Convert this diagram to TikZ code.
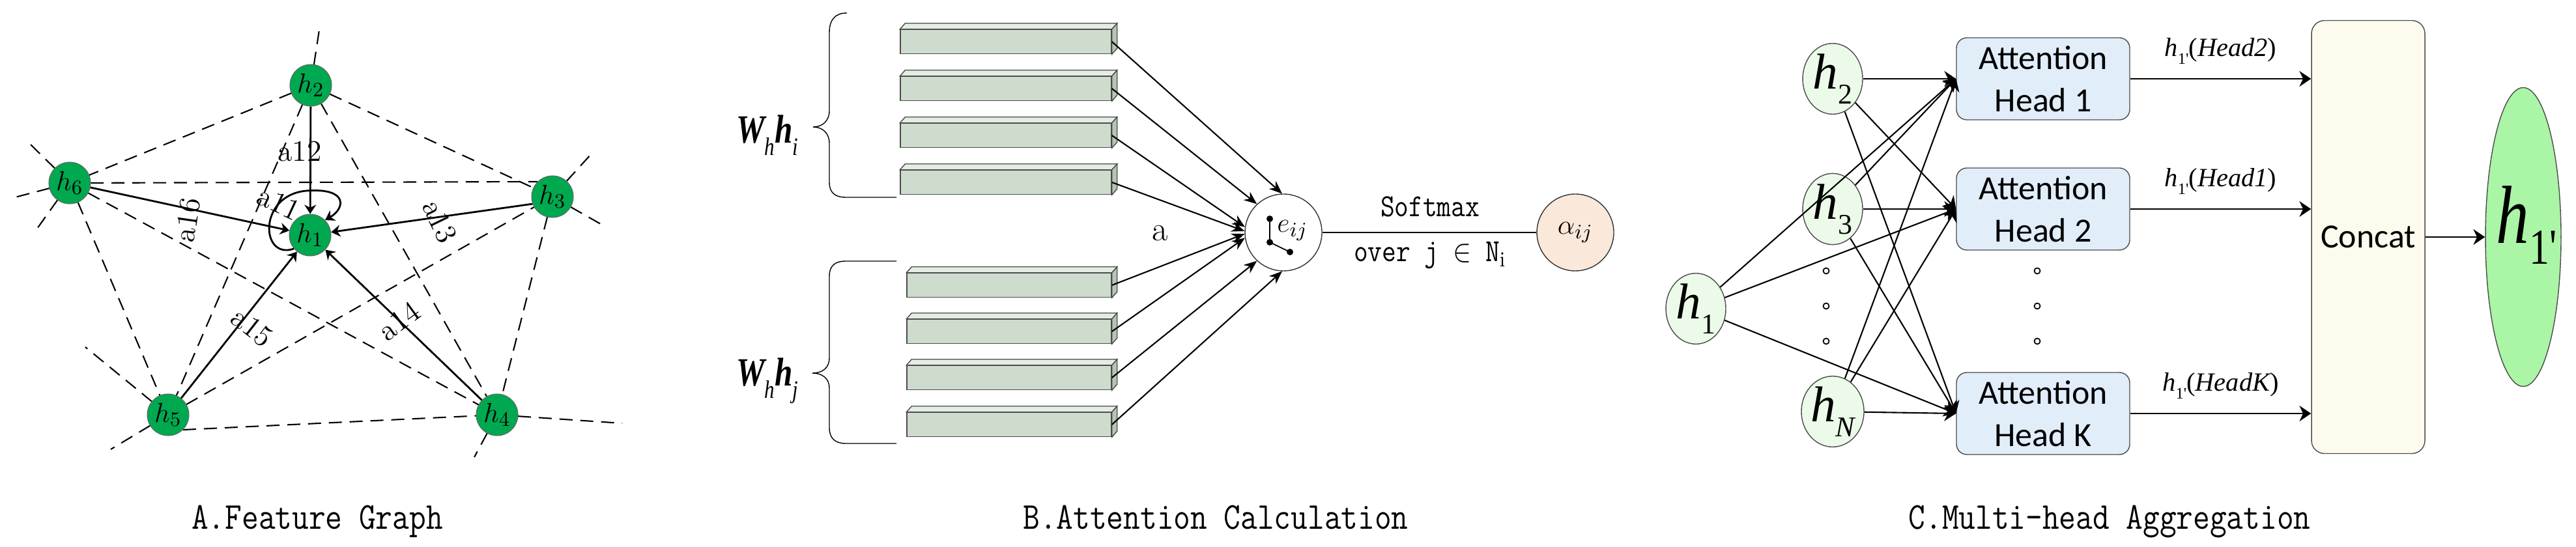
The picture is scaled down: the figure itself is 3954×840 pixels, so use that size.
\documentclass[tikz,border=0pt]{standalone}
\usepackage{fontspec}
\usepackage{amsmath}
\usepackage{graphicx}
\usepackage{tikz}
\usetikzlibrary{arrows.meta,backgrounds,shapes.geometric}
\newfontfamily\tms{Liberation Serif}
\newfontfamily\tmsi{Liberation Serif}[UprightFont={* Italic}]
\newfontfamily\calibri{Carlito}
\definecolor{nodegreen}{RGB}{0,168,80}
\definecolor{barface}{RGB}{206,220,206}
\definecolor{bartopc}{RGB}{228,237,228}
\definecolor{barsidec}{RGB}{180,197,180}
\definecolor{alphafill}{RGB}{250,232,218}
\definecolor{hlight}{RGB}{236,250,233}
\definecolor{headblue}{RGB}{226,237,250}
\definecolor{concatfill}{RGB}{253,251,238}
\definecolor{outgreen}{RGB}{170,245,166}
\newcommand{\tallmono}[2]{\scalebox{1}[1.17]{\ttfamily\fontsize{#1}{#1}\selectfont #2}}
\newcommand{\wlab}[1]{\scalebox{0.8}[1]{\tms\fontsize{17.5}{20}\selectfont\bfseries\itshape W\raisebox{-0.3em}{\mdseries\fontsize{11}{11}\selectfont h}h\raisebox{-0.3em}{\mdseries\fontsize{11}{11}\selectfont #1}}}
\newcommand{\hC}[1]{{\fontsize{22}{24}\selectfont{\tmsi h}\raisebox{-0.3em}{\tms\fontsize{12.5}{13}\selectfont #1}}}
\newcommand{\hlab}[1]{{\fontsize{11.5}{13}\selectfont{\tmsi h}\raisebox{-0.3em}{\tms\fontsize{7}{7}\selectfont 1\textquotesingle}{\tms(}{\tmsi #1}{\tms)}}}

\begin{document}
\begin{tikzpicture}[x=0.1mm,y=-0.1mm,>=Stealth,
  gnode/.style={circle,fill=nodegreen,draw=black!60,line width=0.3pt,minimum size=6.4mm,inner sep=0pt,font=\fontsize{12.5}{14}\selectfont},
  rimline/.style={dash pattern=on 2mm off 1.2mm,line width=0.6pt},
  pull/.style={-{Stealth[length=1.4mm,width=1.8mm]},line width=0.8pt},
  wlabel/.style={font=\fontsize{13}{15}\selectfont,inner sep=0pt},
  bar/.style={rectangle,draw=black!70,fill=barface,line width=0.4pt,minimum height=3.7mm,inner sep=0pt},
  bartop/.style={draw=black!70,fill=bartopc,line width=0.4pt},
  barside/.style={draw=black!70,fill=barsidec,line width=0.4pt},
  feed/.style={-{Stealth[length=2mm,width=1.6mm]},line width=0.6pt},
  hin/.style={ellipse,draw=black!70,fill=hlight,line width=0.4pt,minimum width=9.2mm,minimum height=10mm,inner sep=0pt},
  head/.style={rectangle,rounded corners=1.6mm,draw=black!70,fill=headblue,line width=0.4pt,minimum width=26.6mm,minimum height=12.6mm,align=center,font=\calibri\fontsize{14.8}{18.5}\selectfont},
  agg/.style={-{Stealth[length=1.8mm,width=2.4mm]},line width=0.6pt},
  ring/.style={draw,line width=0.5pt},
  captext/.style={anchor=base,inner sep=0pt}]
\useasboundingbox (0,0) rectangle (3954,840);

\node[gnode] (h1) at (476,361) {$h_1$};
\node[gnode] (h2) at (477,131) {$h_2$};
\node[gnode] (h3) at (848,302) {$h_3$};
\node[gnode] (h4) at (763,637) {$h_4$};
\node[gnode] (h5) at (258,637) {$h_5$};
\node[gnode] (h6) at (107,281) {$h_6$};
\coordinate (e2) at (490,46);
\coordinate (e6a) at (45,220);
\coordinate (e6b) at (23,303);
\coordinate (e6c) at (57,351);
\coordinate (e5a) at (131,533);
\coordinate (e5b) at (170,690);
\coordinate (e4a) at (955,650);
\coordinate (e4b) at (728,702);
\coordinate (e3a) at (908,236);
\coordinate (e3b) at (922,344);
\begin{scope}[on background layer]
\draw[rimline] (h2.center) -- (h6.center);
\draw[rimline] (h2.center) -- (h3.center);
\draw[rimline] (h3.center) -- (h4.center);
\draw[rimline] (h5.south east) -- (h4.center);
\draw[rimline] (h6.center) -- (h5.center);
\draw[rimline] (h2.center) -- (h5.center);
\draw[rimline] (h2.center) -- (h4.center);
\draw[rimline] (h6.center) -- (h3.north west);
\draw[rimline] (h6.center) -- (h4.center);
\draw[rimline] (h5.center) -- (h3.center);
\foreach \n/\e in {h2/e2,h6/e6a,h6/e6b,h6/e6c,h5/e5a,h5/e5b,h4/e4a,h4/e4b,h3/e3a,h3/e3b}
  \draw[rimline] (\n.center) -- (\e);
\end{scope}
\draw[pull] (h2) -- (h1);
\draw[pull] (h6) -- (h1);
\draw[pull] (h3.200) -- (h1);
\draw[pull] (h4) -- (h1);
\draw[pull] (h5) -- (h1);
\draw[pull] (h1.220) .. controls (400,400) and (395,300) .. (470,293) .. controls (535,288) and (530,320) .. (h1.45);
\node[wlabel] (l12) at (460,233) {a12};
\node[wlabel,rotate=82] (l16) at (288,338) {a16};
\node[wlabel,rotate=-64] (l13) at (675,340) {a13};
\node[wlabel,rotate=36] (l14) at (613,493) {a14};
\node[wlabel,rotate=-38] (l15) at (387,503) {a15};
\node[wlabel,rotate=-25] (l11) at (428,312) {a11};

\foreach \k/\y in {1/64,2/136,3/208,4/280}
  \node[bar,minimum width=32.4mm] (wi\k) at (1544,\y) {};
\foreach \k/\y in {1/438,2/509,3/580,4/652}
  \node[bar,minimum width=31.4mm] (wj\k) at (1549,\y) {};
\foreach \b in {wi1,wi2,wi3,wi4,wj1,wj2,wj3,wj4}{
  \draw[bartop] (\b.north west) -- ++(0.8mm,0.9mm) -- ([shift={(0.8mm,0.9mm)}]\b.north east) -- (\b.north east) -- cycle;
  \draw[barside] (\b.north east) -- ++(0.8mm,0.9mm) -- ([shift={(0.8mm,0.9mm)}]\b.south east) -- (\b.south east) -- cycle;
}
\draw[line width=0.4pt] (1300,20) .. controls (1282,20) and (1273,30) .. (1273,50) -- (1273,170) .. controls (1273,186) and (1262,195) .. (1248,195) .. controls (1262,195) and (1273,204) .. (1273,220) -- (1273,280) .. controls (1273,296) and (1282,303) .. (1298,303) -- (1376,303);
\draw[line width=0.4pt] (1376,401) -- (1298,401) .. controls (1282,401) and (1273,408) .. (1273,424) -- (1273,550) .. controls (1273,565) and (1262,573) .. (1247,573) .. controls (1262,573) and (1273,581) .. (1273,596) -- (1273,657) .. controls (1273,673) and (1282,681) .. (1298,681) -- (1376,681);
\node[anchor=base east,inner sep=0pt] (wihi) at (1226,220) {\wlab{i}};
\node[anchor=base east,inner sep=0pt] (wjhj) at (1226,593) {\wlab{j}};
\node[circle,draw=black!80,fill=white,line width=0.4pt,minimum size=11.8mm,inner sep=0pt] (eij) at (1970,357) {};
\node[inner sep=0pt,font=\fontsize{13}{15}\selectfont] (etext) at (1984,354) {$e_{ij}$};
\draw[line width=0.5pt] ([shift={(-2.1mm,2.1mm)}]eij.center) coordinate (ic1) -- ([shift={(-2.1mm,-1.5mm)}]eij.center) coordinate (ic2) -- ([shift={(1mm,-3mm)}]eij.center) coordinate (ic3);
\foreach \c in {ic1,ic2,ic3}
  \fill (\c) circle (0.5mm);
\foreach \b/\a in {wi1/92,wi2/133,wi3/172,wi4/178,wj1/182,wj2/188,wj3/227,wj4/268}
  \draw[feed] (\b.east) -- (eij.\a);
\node[inner sep=0pt,font=\fontsize{15}{17}\selectfont] (alab) at (1781,358) {a};
\node[circle,draw=black!80,fill=alphafill,line width=0.4pt,minimum size=11.8mm,inner sep=0pt,font=\fontsize{13}{15}\selectfont] (alpha) at (2418,357) {$\alpha_{ij}$};
\draw[line width=0.8pt] (eij) -- (alpha);
\node[captext] (soft) at (2195,333) {\tallmono{12}{Softmax}};
\node[captext] (over) at (2195,402) {\tallmono{12}{over j $\in$ N$_{\mathrm{i}}$}};

\node[hin] (c1) at (2603,474) {\hC{1}};
\node[hin] (c2) at (2813,121) {\hC{2}};
\node[hin] (c3) at (2813,321) {\hC{3}};
\node[hin] (cN) at (2813,632) {\hC{\tmsi N}};
\foreach \y in {416,470,524}{
  \draw[ring] (2803,\y) circle (0.45mm);
  \draw[ring] (3127,\y) circle (0.45mm);
}
\node[head] (head1) at (3136,121) {Attention\\Head 1};
\node[head] (head2) at (3136,321) {Attention\\Head 2};
\node[head] (headK) at (3136,635) {Attention\\Head K};
\node[rectangle,rounded corners=2mm,draw=black!70,fill=concatfill,line width=0.4pt,minimum width=17.4mm,minimum height=66.5mm,font=\calibri\fontsize{14.8}{18}\selectfont] (concat) at (3635,364) {Concat};
\node[ellipse,fill=outgreen,draw=black!70,line width=0.4pt,minimum width=11.6mm,minimum height=45.9mm,inner sep=0pt] (hout) at (3873,364) {};
\node[anchor=base,inner sep=0pt] (houtlab) at (3878,374) {\scalebox{0.8}[1]{\fontsize{36}{40}\selectfont{\tmsi h}\raisebox{-0.25em}{\tms\fontsize{22}{22}\selectfont 1\textquotesingle}}};
\foreach \s/\t in {c2/head1,c3/head2,cN/headK,c1/head1,c1/head2,c1/headK,c2/head2,c2/headK,c3/head1,c3/headK,cN/head1,cN/head2}
  \draw[agg] (\s) -- (\t.west);
\draw[agg] (head1.east) -- (head1.east -| concat.west) node[midway,above=1mm] {\hlab{Head2}};
\draw[agg] (head2.east) -- (head2.east -| concat.west) node[midway,above=1mm] {\hlab{Head1}};
\draw[agg] (headK.east) -- (headK.east -| concat.west) node[midway,above=1mm] {\hlab{HeadK}};
\draw[agg] (concat) -- (hout);

\node[captext] (capA) at (487,812) {\tallmono{14.2}{A.Feature Graph}};
\node[captext] (capB) at (1866,812) {\tallmono{14.2}{B.Attention Calculation}};
\node[captext] (capC) at (3238,812) {\tallmono{14.2}{C.Multi-head Aggregation}};
\end{tikzpicture}
\end{document}
